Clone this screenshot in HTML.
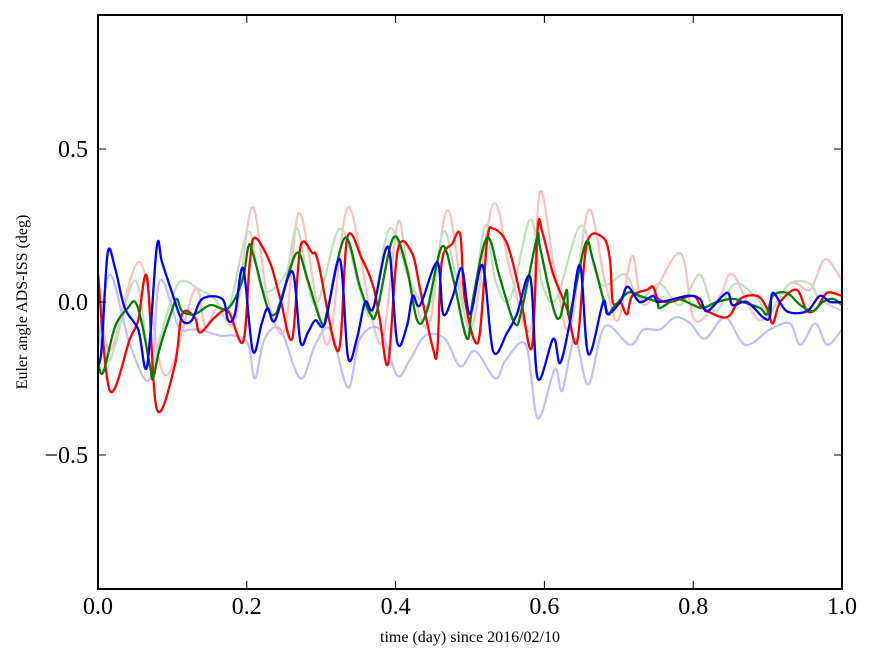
<!DOCTYPE html>
<html><head><meta charset="utf-8"><style>
html,body{margin:0;padding:0;background:#fff;}
svg{display:block;font-family:"Liberation Serif","DejaVu Serif",serif;}
</style></head><body>
<svg id="chart" width="875" height="662" viewBox="0 0 875 662" xmlns="http://www.w3.org/2000/svg">
<rect x="0" y="0" width="875" height="662" fill="#fff"/>
<g id="series"></g>
<g id="axes"></g>
<text x="470" y="642" font-size="16" text-anchor="middle">time (day) since 2016/02/10</text>
<text transform="translate(27,302) rotate(-90)" font-size="16" text-anchor="middle">Euler angle ADS-ISS (deg)</text>
</svg>
<script>
const xTicks=[0,0.2,0.4,0.6,0.8,1.0];
const xTickLabels=["0.0","0.2","0.4","0.6","0.8","1.0"];
const yTicks=[0.5,0,-0.5];
const yTickLabels=["0.5","0.0","\u22120.5"];

const fRedT=[0,.016,.056,.090,.130,.144,.161,.184,.207,.228,.251,.270,.296,.312,.336,.366,.383,.403,.417,.444,.470,.500,.531,.554,.581,.594,.614,.634,.659,.681,.699,.718,.735,.782,.802,.836,.853,.890,.930,.957,.977,1];
const fRedV=[.10,-.16,.13,-.24,.04,-.08,-.02,-.06,.31,.01,-.09,.29,-.03,-.12,.31,-.03,-.12,.26,.10,-.08,.30,-.09,.32,.10,-.09,.36,.10,-.09,.30,.07,-.06,.15,-.01,.16,-.06,.02,.09,-.06,.06,.04,.14,.07];

const fGreenT=[0,.016,.050,.070,.083,.108,.137,.157,.175,.202,.221,.252,.268,.292,.325,.352,.368,.392,.419,.446,.464,.480,.500,.520,.534,.554,.581,.597,.616,.649,.675,.708,.728,.755,.782,.809,.829,.856,.883,.903,.930,.957,.970,1];
const fGreenV=[-.09,-.19,.07,-.22,-.12,.06,.04,.01,-.03,.23,.04,.09,.24,-.01,.24,.04,-.04,.24,.07,-.01,.23,.10,-.06,.25,.07,.01,.27,.06,.01,.25,.06,.09,.01,.06,-.01,.09,-.03,.06,.02,-.03,.06,.06,.01,-.03];

const fBlueT=[0,.016,.043,.070,.083,.108,.124,.137,.164,.184,.202,.211,.224,.245,.272,.292,.312,.336,.352,.379,.402,.419,.440,.466,.487,.507,.534,.548,.575,.591,.614,.624,.641,.659,.681,.715,.733,.755,.776,.796,.816,.843,.870,.903,.930,.944,.964,.980,1];
const fBlueV=[-.15,.09,-.14,-.25,.07,-.08,-.09,-.09,-.11,-.11,-.14,-.25,-.12,-.09,-.25,-.14,-.09,-.28,-.12,-.09,-.24,-.19,-.11,-.12,-.21,-.16,-.25,-.19,-.14,-.38,-.22,-.29,-.12,-.27,-.08,-.14,-.09,-.09,-.05,-.07,-.12,-.05,-.14,-.09,-.07,-.14,-.07,-.14,-.09];

const redT=[0,.016,.043,.054,.066,.079,.103,.113,.130,.137,.157,.175,.195,.204,.211,.231,.245,.261,.272,.288,.296,.323,.335,.355,.370,.379,.390,.403,.422,.433,.450,.456,.462,.476,.487,.493,.511,.523,.531,.550,.567,.583,.591,.597,.612,.630,.644,.657,.679,.688,.692,.702,.711,.718,.738,.746,.753,.769,.800,.813,.845,.863,.886,.899,.907,.917,.939,.953,.966,.980,1];
const redV=[.09,-.29,-.12,-.06,.08,-.35,-.21,-.04,-.05,-.10,-.05,-.03,-.13,.13,.21,.13,.01,-.12,.18,.16,.13,-.16,.21,.14,.05,-.06,-.20,.17,.16,.04,-.15,-.16,.13,.19,.22,.01,-.13,.20,.24,.19,.03,-.15,.24,.23,.09,-.02,-.13,.19,.21,.14,0,0,-.04,.02,.04,.05,.01,0,.02,-.02,-.05,.01,.02,-.02,-.07,0,.04,-.03,-.02,.03,.02];

const greenT=[0,.007,.023,.040,.050,.059,.070,.074,.083,.099,.106,.113,.130,.151,.175,.194,.202,.208,.228,.238,.245,.267,.282,.301,.309,.332,.352,.366,.375,.397,.415,.429,.442,.462,.477,.496,.504,.523,.540,.560,.570,.590,.594,.612,.621,.630,.634,.655,.665,.684,.692,.712,.728,.751,.755,.778,.800,.813,.832,.853,.867,.890,.899,.907,.926,.944,.961,.974,.988,1];
const greenV=[-.20,-.23,-.08,-.02,0,-.07,-.21,-.25,-.15,-.03,.01,-.03,-.04,-.01,-.02,.07,.18,.16,-.02,-.04,0,.16,.07,-.07,-.02,.21,.05,-.04,-.03,.21,.11,-.06,-.03,.18,.08,-.12,.01,.21,.08,-.07,-.02,.21,.18,-.02,-.05,.04,-.04,.19,.14,-.03,-.02,.03,.02,0,-.02,.01,-.01,-.02,0,.01,0,-.02,-.04,.02,.03,-.01,-.03,0,.01,-.01];

const blueT=[0,.005,.013,.023,.036,.054,.066,.079,.086,.101,.113,.126,.140,.167,.175,.184,.195,.208,.220,.228,.238,.261,.272,.282,.292,.305,.325,.336,.348,.359,.370,.390,.402,.415,.423,.433,.456,.464,.477,.489,.500,.517,.531,.550,.563,.581,.591,.612,.621,.634,.648,.659,.679,.685,.702,.712,.728,.746,.755,.792,.809,.819,.845,.853,.872,.894,.903,.907,.926,.953,.970,.984,1];
const blueV=[-.21,-.15,.16,.11,-.02,-.09,-.21,.18,.13,.02,-.06,-.06,.01,.01,-.06,-.04,.11,-.16,-.07,-.02,-.06,.10,-.13,-.10,-.06,-.07,.14,-.18,-.12,0,-.02,.18,-.13,-.08,.02,-.01,.13,-.04,.02,.11,-.04,.12,-.16,-.10,-.04,.08,-.25,-.12,-.20,-.07,.12,-.17,0,-.04,0,.05,0,.02,0,.02,.01,-.03,.03,-.01,0,-.05,-.05,.03,-.03,-.03,.02,0,0];

const X0=98,X1=842,Y0=15,Y1=589,YMAX=0.938,YMIN=-0.938;
function sx(t){return X0+(t-0)/(1-0)*(X1-X0);}
function sy(v){return Y0+(YMAX-v)/(YMAX-YMIN)*(Y1-Y0);}
const NS="http://www.w3.org/2000/svg";
const sg=document.getElementById('series');
function line(ts,vs,color,w,name){
  const P=ts.map((t,i)=>[sx(t),sy(vs[i])]);
  let d='M'+P[0][0].toFixed(1)+','+P[0][1].toFixed(1);
  const k=0.5/3;
  for(let i=0;i<P.length-1;i++){
    const p0=P[i-1]||P[i],p1=P[i],p2=P[i+1],p3=P[i+2]||P[i+1];
    let c1x=p1[0]+(p2[0]-p0[0])*k,c1y=p1[1]+(p2[1]-p0[1])*k;
    let c2x=p2[0]-(p3[0]-p1[0])*k,c2y=p2[1]-(p3[1]-p1[1])*k;
    c1x=Math.min(Math.max(c1x,p1[0]),p2[0]);c2x=Math.min(Math.max(c2x,p1[0]),p2[0]);
    d+='C'+c1x.toFixed(1)+','+c1y.toFixed(1)+' '+c2x.toFixed(1)+','+c2y.toFixed(1)+' '+p2[0].toFixed(1)+','+p2[1].toFixed(1);
  }
  const p=document.createElementNS(NS,'path');
  p.setAttribute('d',d);
  p.setAttribute('fill','none');p.setAttribute('stroke',color);p.setAttribute('stroke-width',w);
  p.setAttribute('stroke-linejoin','round');p.setAttribute('stroke-linecap','round');
  
  
  sg.appendChild(p);
}
line(fRedT,fRedV,'#ffbfbf',2.2,'faint-red-series');
line(fGreenT,fGreenV,'#bfdfbf',2.2,'faint-green-series');
line(fBlueT,fBlueV,'#bfbfff',2.2,'faint-blue-series');
line(redT,redV,'#ff0000',2.3,'red-series');
line(greenT,greenV,'#008000',2.3,'green-series');
line(blueT,blueV,'#0000ff',2.3,'blue-series');

const ag=document.getElementById('axes');
function el(tag,attrs){const e=document.createElementNS(NS,tag);for(const k in attrs)e.setAttribute(k,attrs[k]);ag.appendChild(e);return e;}
xTicks.forEach((t,i)=>{
  const x=sx(t);
  const a=el('line',{x1:x,x2:x,y1:Y1,y2:Y1-8,stroke:'#000','stroke-width':1});
  
  
  const b=el('line',{x1:x,x2:x,y1:Y0,y2:Y0+8,stroke:'#000','stroke-width':1});
  
  
  const tx=el('text',{x:x,y:614,'font-size':24,'text-anchor':'middle'});
  tx.textContent=xTickLabels[i];
  
  
});
yTicks.forEach((v,i)=>{
  const y=sy(v);
  const a=el('line',{x1:X0,x2:X0+8,y1:y,y2:y,stroke:'#000','stroke-width':1});
  
  
  const b=el('line',{x1:X1,x2:X1-8,y1:y,y2:y,stroke:'#000','stroke-width':1});
  
  
  const tx=el('text',{x:88,y:y+8,'font-size':24,'text-anchor':'end'});
  tx.textContent=yTickLabels[i];
  
  
});
const fr=el('rect',{x:X0,y:Y0,width:X1-X0,height:Y1-Y0,fill:'none',stroke:'#000','stroke-width':2});


</script>
</body></html>
